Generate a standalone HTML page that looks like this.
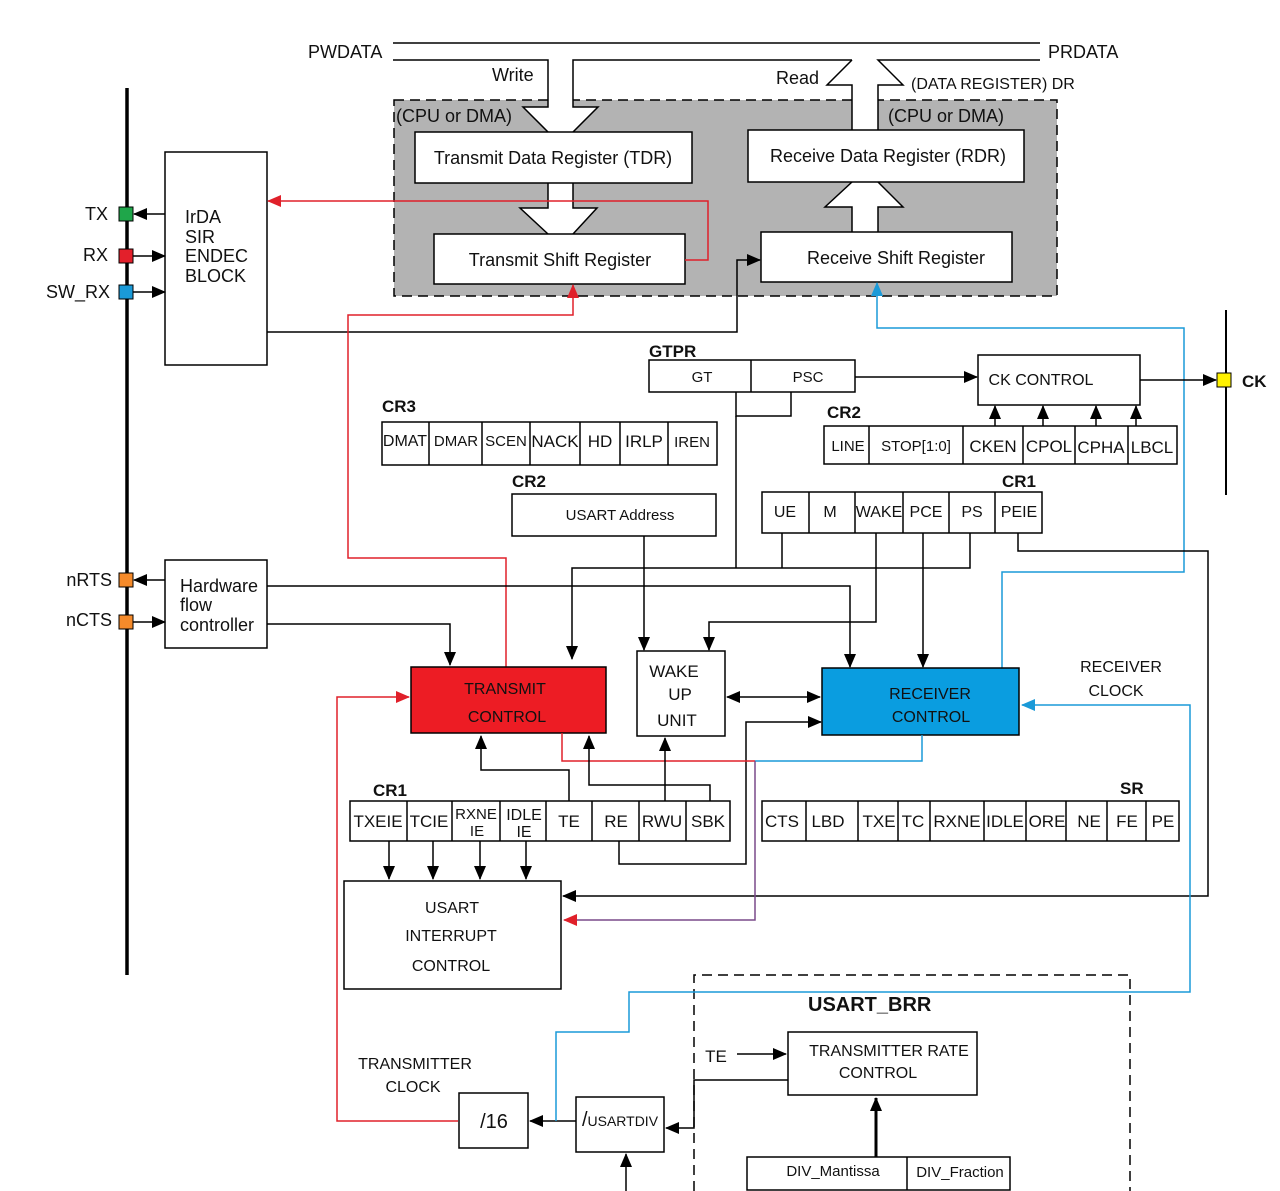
<!DOCTYPE html>
<html><head><meta charset="utf-8"><style>
html,body{margin:0;padding:0;background:#fff}
svg{display:block}
text{font-family:"Liberation Sans",Arial,sans-serif;fill:#111}
.b{font-weight:bold}
</style></head><body>
<svg width="1280" height="1191" viewBox="0 0 1280 1191" xmlns="http://www.w3.org/2000/svg">
<defs>
<marker id="ak" markerWidth="14" markerHeight="14" refX="13" refY="7" orient="auto" markerUnits="userSpaceOnUse"><path d="M0,1 L14,7 L0,13 z" fill="#000"/></marker>
<marker id="ar" markerWidth="14" markerHeight="14" refX="13" refY="7" orient="auto" markerUnits="userSpaceOnUse"><path d="M0,1 L14,7 L0,13 z" fill="#e0202a"/></marker>
<marker id="ab" markerWidth="14" markerHeight="14" refX="13" refY="7" orient="auto" markerUnits="userSpaceOnUse"><path d="M0,1 L14,7 L0,13 z" fill="#1a9ad8"/></marker>
<marker id="aks" markerWidth="14" markerHeight="14" refX="1" refY="7" orient="auto" markerUnits="userSpaceOnUse"><path d="M14,1 L0,7 L14,13 z" fill="#000"/></marker>
</defs>
<g stroke="#000" stroke-width="1.5" fill="none">
<rect x="394" y="100" width="663" height="196" fill="#b3b3b3" stroke-dasharray="10,6"/>
<line x1="393" y1="43" x2="1040" y2="43"/>
<path d="M548,60 L548,107 L523,107 L548,132 L573,132 L598,107 L573,107 L573,60 Z" fill="#fff" stroke="none"/>
<polyline points="393,60 548,60 548,107 523,107 548,132"/>
<polyline points="573,132 598,107 573,107 573,60 852,60"/>
<path d="M852,130 L852,85 L827,85 L852,60 L878,60 L903,85 L878,85 L878,130 Z" fill="#fff" stroke="none"/>
<polyline points="852,130 852,85 827,85 852,60"/>
<polyline points="878,130 878,85 903,85 878,60 1040,60"/>
<path d="M548,183 L548,208 L520,208 L548,234 L573,234 L597,208 L573,208 L573,183 Z" fill="#fff" stroke="none"/>
<polyline points="548,183 548,208 520,208 548,234"/>
<polyline points="573,183 573,208 597,208 573,234"/>
<path d="M852,232 L852,207 L825,207 L852,182 L878,182 L903,207 L878,207 L878,232 Z" fill="#fff" stroke="none"/>
<polyline points="852,232 852,207 825,207 852,182"/>
<polyline points="878,232 878,207 903,207 878,182"/>
<rect x="415" y="132" width="277" height="51" fill="#fff"/>
<rect x="434" y="234" width="251" height="50" fill="#fff"/>
<rect x="748" y="130" width="276" height="52" fill="#fff"/>
<rect x="761" y="232" width="251" height="50" fill="#fff"/>
<line x1="127" y1="88" x2="127" y2="975" stroke-width="3.5"/>
<rect x="165" y="152" width="102" height="213" fill="#fff"/>
<rect x="165" y="560" width="102" height="88" fill="#fff"/>
<line x1="165" y1="214" x2="134" y2="214" marker-end="url(#ak)"/>
<line x1="132" y1="256" x2="165" y2="256" marker-end="url(#ak)"/>
<line x1="132" y1="292" x2="165" y2="292" marker-end="url(#ak)"/>
<line x1="165" y1="580" x2="134" y2="580" marker-end="url(#ak)"/>
<line x1="132" y1="622" x2="165" y2="622" marker-end="url(#ak)"/>
<polyline points="267,332 737,332 737,260 760,260" marker-end="url(#ak)"/>
<polyline points="685,260 708,260 708,201 268,201" stroke="#e0202a" marker-end="url(#ar)"/>
<polyline points="506,667 506,558 348,558 348,315 573,315 573,285" stroke="#e0202a" marker-end="url(#ar)"/>
<polyline points="1002,668 1002,572 1184,572 1184,328 877,328 877,283" stroke="#1a9ad8" marker-end="url(#ab)"/>
<rect x="649" y="360" width="206" height="32" fill="#fff"/>
<line x1="751" y1="360" x2="751" y2="392"/>
<polyline points="736,392 736,416 791,416 791,392"/>
<line x1="736" y1="416" x2="736" y2="568"/>
<line x1="855" y1="377" x2="977" y2="377" marker-end="url(#ak)"/>
<rect x="978" y="355" width="162" height="50" fill="#fff"/>
<line x1="1140" y1="380" x2="1216" y2="380" marker-end="url(#ak)"/>
<line x1="1226" y1="310" x2="1226" y2="495" stroke-width="2"/>
<rect x="824" y="426" width="353" height="38" fill="#fff"/>
<path d="M869,426V464M963,426V464M1023,426V464M1075,426V464M1128,426V464"/>
<line x1="995" y1="426" x2="995" y2="406" marker-end="url(#ak)"/>
<line x1="1043" y1="426" x2="1043" y2="406" marker-end="url(#ak)"/>
<line x1="1096" y1="426" x2="1096" y2="406" marker-end="url(#ak)"/>
<line x1="1136" y1="426" x2="1136" y2="406" marker-end="url(#ak)"/>
<rect x="382" y="422" width="335" height="43" fill="#fff"/>
<path d="M429,422V465M482,422V465M530,422V465M580,422V465M620,422V465M668,422V465"/>
<rect x="512" y="494" width="204" height="42" fill="#fff"/>
<line x1="644" y1="536" x2="644" y2="650" marker-end="url(#ak)"/>
<rect x="762" y="492" width="280" height="41" fill="#fff"/>
<path d="M809,492V533M855,492V533M903,492V533M949,492V533M995,492V533"/>
<polyline points="782,533 782,568"/>
<polyline points="970,533 970,568 572,568 572,659" marker-end="url(#ak)"/>
<polyline points="876,533 876,622 709,622 709,650" marker-end="url(#ak)"/>
<line x1="923" y1="533" x2="923" y2="667" marker-end="url(#ak)"/>
<polyline points="1018,533 1018,551 1208,551 1208,896 563,896" marker-end="url(#ak)"/>
<polyline points="267,586 850,586 850,667" marker-end="url(#ak)"/>
<polyline points="267,624 450,624 450,665" marker-end="url(#ak)"/>
<rect x="411" y="667" width="195" height="66" fill="#ed1c24"/>
<rect x="637" y="651" width="88" height="85" fill="#fff"/>
<rect x="822" y="668" width="197" height="67" fill="#0a9de0"/>
<line x1="727" y1="697" x2="820" y2="697" marker-end="url(#ak)" marker-start="url(#aks)"/>
<polyline points="619,841 619,864 746,864 746,722 821,722" marker-end="url(#ak)"/>
<polyline points="1190,990 1190,705 1022,705" stroke="#1a9ad8" marker-end="url(#ab)"/>
<polyline points="922,735 922,761 755,761" stroke="#1a9ad8"/>
<polyline points="562,733 562,761 755,761" stroke="#e0202a"/>
<polyline points="755,761 755,920 564,920" stroke="#7a4a8a" marker-end="url(#ar)"/>
<polyline points="458,1121 337,1121 337,697 409,697" stroke="#e0202a" marker-end="url(#ar)"/>
<rect x="350" y="801" width="380" height="40" fill="#fff"/>
<path d="M407,801V841M452,801V841M500,801V841M546,801V841M592,801V841M639,801V841M686,801V841"/>
<polyline points="569,801 569,770 481,770 481,736" marker-end="url(#ak)"/>
<polyline points="710,801 710,785 589,785 589,736" marker-end="url(#ak)"/>
<line x1="665" y1="801" x2="665" y2="738" marker-end="url(#ak)"/>
<line x1="389" y1="841" x2="389" y2="879" marker-end="url(#ak)"/>
<line x1="433" y1="841" x2="433" y2="879" marker-end="url(#ak)"/>
<line x1="480" y1="841" x2="480" y2="879" marker-end="url(#ak)"/>
<line x1="526" y1="841" x2="526" y2="879" marker-end="url(#ak)"/>
<rect x="344" y="881" width="217" height="108" fill="#fff"/>
<rect x="762" y="801" width="417" height="40" fill="#fff"/>
<path d="M806,801V841M858,801V841M898,801V841M930,801V841M984,801V841M1026,801V841M1066,801V841M1107,801V841M1146,801V841"/>
<polyline points="694,1191 694,975 1130,975 1130,1191" stroke-dasharray="10,6"/>
<line x1="737" y1="1054" x2="786" y2="1054" marker-end="url(#ak)"/>
<rect x="788" y="1032" width="189" height="63" fill="#fff"/>
<line x1="876" y1="1157" x2="876" y2="1098" stroke-width="3" marker-end="url(#ak)"/>
<rect x="747" y="1157" width="263" height="33" fill="#fff"/>
<line x1="907" y1="1157" x2="907" y2="1190"/>
<polyline points="788,1080 694,1080 694,1128 666,1128" marker-end="url(#ak)"/>
<rect x="576" y="1097" width="88" height="55" fill="#fff"/>
<line x1="626" y1="1191" x2="626" y2="1154" marker-end="url(#ak)"/>
<rect x="459" y="1093" width="69" height="55" fill="#fff"/>
<line x1="576" y1="1121" x2="530" y2="1121" marker-end="url(#ak)"/>
<polyline points="556,1121 556,1032 629,1032 629,992 1190,992 1190,990" stroke="#1a9ad8"/>
</g>
<g stroke="#000" stroke-width="1">
<rect x="119" y="207" width="14" height="14" fill="#1fa64a"/>
<rect x="119" y="249" width="14" height="14" fill="#e3202b"/>
<rect x="119" y="285" width="14" height="14" fill="#1a9ad8"/>
<rect x="119" y="573" width="14" height="14" fill="#f58a2a"/>
<rect x="119" y="615" width="14" height="14" fill="#f58a2a"/>
<rect x="1217" y="373" width="14" height="14" fill="#fff200"/>
</g>
<g font-size="18">
<text x="308" y="58">PWDATA</text>
<text x="1048" y="58">PRDATA</text>
<text x="492" y="81">Write</text>
<text x="776" y="84">Read</text>
<text x="911" y="89" font-size="16">(DATA REGISTER) DR</text>
<text x="396" y="122">(CPU or DMA)</text>
<text x="888" y="122">(CPU or DMA)</text>
<text x="553" y="164" text-anchor="middle">Transmit Data Register (TDR)</text>
<text x="560" y="266" text-anchor="middle">Transmit Shift Register</text>
<text x="888" y="162" text-anchor="middle">Receive Data Register (RDR)</text>
<text x="896" y="264" text-anchor="middle">Receive Shift Register</text>
<text x="108" y="220" text-anchor="end">TX</text>
<text x="108" y="261" text-anchor="end">RX</text>
<text x="110" y="298" text-anchor="end">SW_RX</text>
<text x="112" y="586" text-anchor="end">nRTS</text>
<text x="112" y="626" text-anchor="end">nCTS</text>
<text x="185" y="223">IrDA</text>
<text x="185" y="243">SIR</text>
<text x="185" y="262">ENDEC</text>
<text x="185" y="282">BLOCK</text>
<text x="180" y="592">Hardware</text>
<text x="180" y="611">flow</text>
<text x="180" y="631">controller</text>
</g>
<g font-size="17" class="b">
<text x="649" y="357" class="b">GTPR</text>
<text x="382" y="412" class="b">CR3</text>
<text x="827" y="418" class="b">CR2</text>
<text x="512" y="487" class="b">CR2</text>
<text x="1002" y="487" class="b">CR1</text>
<text x="373" y="796" class="b">CR1</text>
<text x="1120" y="794" class="b">SR</text>
<text x="1242" y="387" class="b">CK</text>
<text x="808" y="1011" font-size="20" class="b">USART_BRR</text>
</g>
<g font-size="15" text-anchor="middle">
<text x="702" y="382">GT</text>
<text x="808" y="382">PSC</text>
<text x="1041" y="385" font-size="16">CK CONTROL</text>
<text x="848" y="451">LINE</text>
<text x="916" y="451">STOP[1:0]</text>
<text x="993" y="452" font-size="17">CKEN</text>
<text x="1049" y="452" font-size="17">CPOL</text>
<text x="1101" y="453" font-size="17">CPHA</text>
<text x="1152" y="453" font-size="17">LBCL</text>
<text x="405" y="446" font-size="16">DMAT</text>
<text x="456" y="446">DMAR</text>
<text x="506" y="446">SCEN</text>
<text x="555" y="447" font-size="17">NACK</text>
<text x="600" y="447" font-size="17">HD</text>
<text x="644" y="447" font-size="17">IRLP</text>
<text x="692" y="447">IREN</text>
<text x="620" y="520">USART Address</text>
<text x="785" y="517" font-size="16">UE</text>
<text x="830" y="517" font-size="16">M</text>
<text x="879" y="517" font-size="16">WAKE</text>
<text x="926" y="517" font-size="16">PCE</text>
<text x="972" y="517" font-size="16">PS</text>
<text x="1019" y="517" font-size="16">PEIE</text>
<text x="505" y="694" fill="#5a1010" font-size="16">TRANSMIT</text>
<text x="507" y="722" fill="#5a1010" font-size="16">CONTROL</text>
<text x="674" y="677" font-size="17">WAKE</text>
<text x="680" y="700" font-size="17">UP</text>
<text x="677" y="726" font-size="17">UNIT</text>
<text x="930" y="699" fill="#0a3550" font-size="16">RECEIVER</text>
<text x="931" y="722" fill="#0a3550" font-size="16">CONTROL</text>
<text x="1121" y="672" font-size="16">RECEIVER</text>
<text x="1116" y="696" font-size="16">CLOCK</text>
<text x="378" y="827" font-size="17">TXEIE</text>
<text x="429" y="827" font-size="17">TCIE</text>
<text x="476" y="819" font-size="15">RXNE</text>
<text x="477" y="836" font-size="15">IE</text>
<text x="524" y="820" font-size="16">IDLE</text>
<text x="524" y="837" font-size="16">IE</text>
<text x="569" y="827" font-size="17">TE</text>
<text x="616" y="827" font-size="17">RE</text>
<text x="662" y="827" font-size="17">RWU</text>
<text x="708" y="827" font-size="17">SBK</text>
<text x="782" y="827" font-size="17">CTS</text>
<text x="828" y="827" font-size="17">LBD</text>
<text x="879" y="827" font-size="17">TXE</text>
<text x="913" y="827" font-size="17">TC</text>
<text x="957" y="827" font-size="17">RXNE</text>
<text x="1005" y="827" font-size="17">IDLE</text>
<text x="1047" y="827" font-size="17">ORE</text>
<text x="1089" y="827" font-size="17">NE</text>
<text x="1127" y="827" font-size="17">FE</text>
<text x="1163" y="827" font-size="17">PE</text>
<text x="452" y="913" font-size="16">USART</text>
<text x="451" y="941" font-size="16">INTERRUPT</text>
<text x="451" y="971" font-size="16">CONTROL</text>
<text x="716" y="1062" font-size="17">TE</text>
<text x="889" y="1056" font-size="16">TRANSMITTER RATE</text>
<text x="878" y="1078" font-size="16">CONTROL</text>
<text x="833" y="1176">DIV_Mantissa</text>
<text x="960" y="1177">DIV_Fraction</text>
<text x="620" y="1126" font-size="14"><tspan font-size="20">/</tspan>USARTDIV</text>
<text x="494" y="1128" font-size="20">/16</text>
<text x="415" y="1069" font-size="16">TRANSMITTER</text>
<text x="413" y="1092" font-size="16">CLOCK</text>
</g>
</svg>
</body></html>
